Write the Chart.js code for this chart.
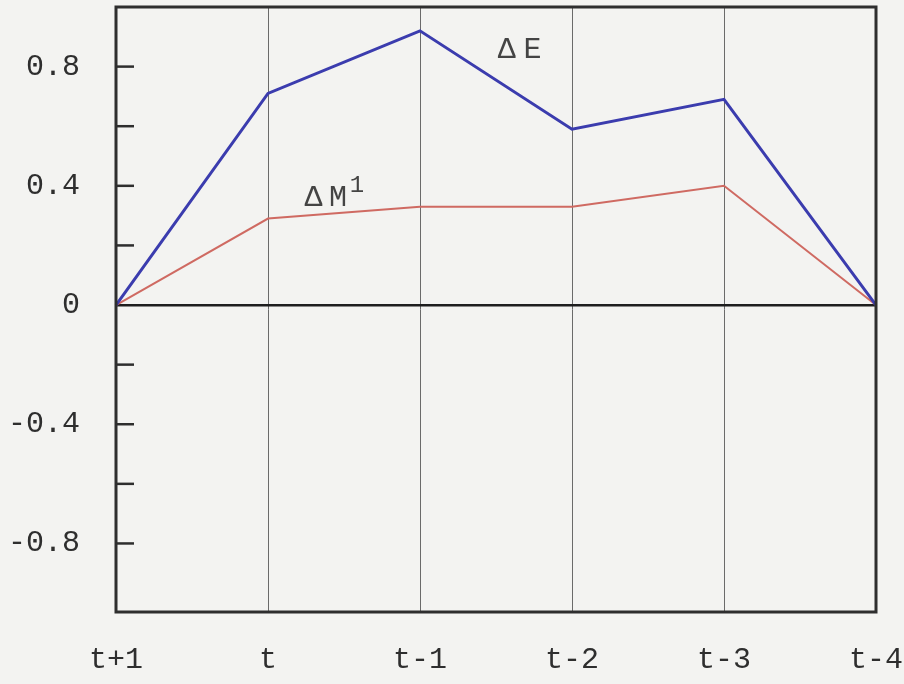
<!DOCTYPE html>
<html>
<head>
<meta charset="utf-8">
<script src="https://cdn.jsdelivr.net/npm/chart.js@4.4.1/dist/chart.umd.min.js"></script>
<style>
  html, body { margin: 0; padding: 0; background: #f3f3f1; }
  #wrap { width: 904px; height: 684px; position: relative; }
</style>
</head>
<body>
<div id="wrap"><canvas id="c" width="904" height="684"></canvas></div>
<script>
// Lag positions on the horizontal axis
const periods = ['t+1', 't', 't-1', 't-2', 't-3', 't-4'];
// Response of ΔE and ΔM¹ at each lag
const deltaE = [0, 0.71, 0.92, 0.59, 0.69, 0];
const deltaM1 = [0, 0.29, 0.33, 0.33, 0.40, 0];
// Vertical axis ticks: labelled ones and the short inner marks
const yTicks = [-0.8, -0.6, -0.4, -0.2, 0, 0.2, 0.4, 0.6, 0.8];
const yLabelled = [-0.8, -0.4, 0, 0.4, 0.8];

const FONT = '"Liberation Mono", "DejaVu Sans Mono", monospace';
const INK = '#2e2e2e';

// Frame, inner tick dashes and series labels
const decorations = {
  id: 'decorations',
  afterDatasetsDraw(chart) {
    const { ctx, chartArea: a, scales: { x, y } } = chart;
    ctx.save();
    // inward tick dashes on the left axis
    ctx.strokeStyle = INK;
    ctx.lineWidth = 2.5;
    yTicks.forEach(v => {
      if (v === 0) return;
      const py = y.getPixelForValue(v);
      ctx.beginPath();
      ctx.moveTo(a.left, py);
      ctx.lineTo(a.left + 18, py);
      ctx.stroke();
    });
    // frame
    ctx.lineWidth = 3;
    ctx.strokeRect(a.left, a.top, a.right - a.left, a.bottom - a.top);
    // series labels
    ctx.fillStyle = '#444';
    ctx.font = '30px ' + FONT;
    ctx.textBaseline = 'middle';
    ctx.textAlign = 'center';
    ctx.fillText('Δ', x.getPixelForValue(2.57), y.getPixelForValue(0.854));
    ctx.fillText('E', x.getPixelForValue(2.74), y.getPixelForValue(0.854));
    ctx.fillText('Δ', x.getPixelForValue(1.30), y.getPixelForValue(0.36));
    ctx.fillText('M', x.getPixelForValue(1.46), y.getPixelForValue(0.36));
    ctx.font = '24px ' + FONT;
    ctx.fillText('1', x.getPixelForValue(1.585), y.getPixelForValue(0.40));
    ctx.restore();
  }
};

new Chart(document.getElementById('c'), {
  type: 'line',
  data: {
    labels: periods,
    datasets: [
      {
        label: 'ΔE',
        data: deltaE,
        borderColor: '#3b3cae',
        borderWidth: 3,
        pointRadius: 0,
        tension: 0
      },
      {
        label: 'ΔM¹',
        data: deltaM1,
        borderColor: '#cf6a62',
        borderWidth: 2,
        pointRadius: 0,
        tension: 0
      }
    ]
  },
  options: {
    responsive: false,
    animation: false,
    layout: { padding: { top: 7, right: 28, bottom: 0, left: 0 } },
    plugins: { legend: { display: false }, tooltip: { enabled: false } },
    scales: {
      x: {
        offset: false,
        afterFit(scale) { scale.height = 72; scale.paddingLeft = 0; scale.paddingRight = 0; },
        grid: { color: '#6a6a6a', lineWidth: 1, drawTicks: false },
        border: { display: false },
        ticks: {
          color: INK,
          padding: 30,
          maxRotation: 0,
          autoSkip: false,
          font: { family: FONT, size: 30 }
        }
      },
      y: {
        min: -1.03,
        max: 1.0,
        afterBuildTicks(scale) { scale.ticks = yTicks.map(v => ({ value: v })); },
        afterFit(scale) { scale.width = 116; scale.paddingTop = 0; scale.paddingBottom = 0; },
        grid: {
          drawTicks: false,
          color: ctx => (ctx.tick && ctx.tick.value === 0 ? '#1e1e1e' : 'rgba(0,0,0,0)'),
          lineWidth: ctx => (ctx.tick && ctx.tick.value === 0 ? 2.5 : 0)
        },
        border: { display: false },
        ticks: {
          color: INK,
          padding: 36,
          font: { family: FONT, size: 30 },
          callback: v => (yLabelled.includes(v) ? (v === 0 ? '0' : v.toFixed(1)) : '')
        }
      }
    }
  },
  plugins: [decorations]
});
</script>
</body>
</html>
